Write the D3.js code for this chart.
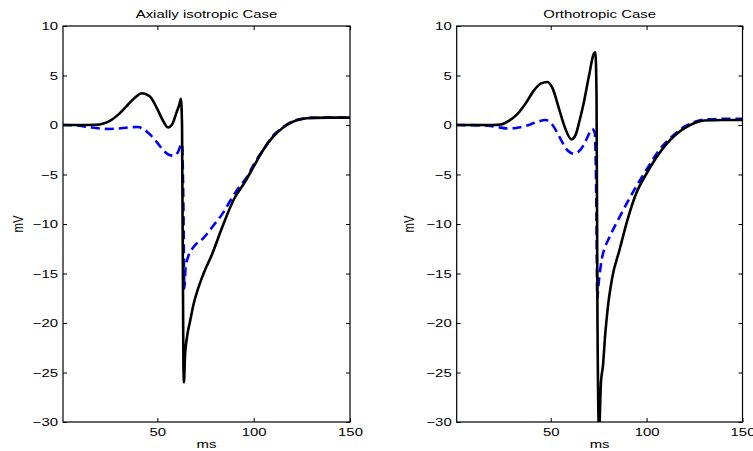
<!DOCTYPE html>
<html>
<head>
<meta charset="utf-8">
<script src="https://cdn.jsdelivr.net/npm/d3@7"></script>
<style>
  html, body { margin: 0; padding: 0; background: #fff; }
  svg { display: block; }
  text { font-family: "Liberation Sans", Arial, Helvetica, sans-serif; fill: #000; }
</style>
</head>
<body>
<svg id="chart" width="753" height="451"></svg>
<script>
// ---------- data ----------
const xTicks = [50, 100, 150];
const yTicks = [-30, -25, -20, -15, -10, -5, 0, 5, 10];
const titles = ["Axially isotropic Case", "Orthotropic Case"];
const xLabel = "ms";
const yLabel = "mV";

// Left panel: solid black trace
const leftSolidT = [1, 10, 18, 22, 26, 30, 34, 38, 42, 46, 50, 53, 55.5, 58, 60, 61.3, 62.2, 62.8, 63.5, 63.8, 64.3, 65.4, 67, 68.9, 71, 74, 78.5, 83.7, 90, 95, 100, 105, 110, 115, 120, 125, 130, 140, 150];
const leftSolidV = [0, 0, 0.02, 0.15, 0.5, 1.1, 1.9, 2.7, 3.2, 2.9, 1.6, 0.4, -0.25, 0.2, 1.3, 2.0, 2.65, 0, -24, -26, -23.5, -21.4, -19.8, -18.0, -16.6, -15.0, -13.0, -10.3, -7.4, -5.9, -4.2, -2.5, -1.2, -0.3, 0.3, 0.6, 0.72, 0.75, 0.75];
// Left panel: dashed blue trace
const leftDashT = [1, 8, 14, 20, 25, 30, 35, 40, 43, 46.4, 50, 53.3, 56, 58.5, 60.5, 62.8, 63.5, 64, 64.6, 66, 68.9, 74, 79.3, 84, 88, 92, 96.7, 100, 105, 110, 115, 120, 125, 130, 140, 150];
const leftDashV = [0, -0.05, -0.2, -0.35, -0.4, -0.35, -0.25, -0.2, -0.45, -1.0, -1.8, -2.6, -3.0, -3.1, -2.8, -1.9, -8, -16.5, -14.5, -13.3, -12.3, -11.4, -10.1, -8.9, -7.6, -6.4, -5.2, -4.0, -2.5, -1.1, -0.25, 0.35, 0.62, 0.72, 0.75, 0.75];

// Right panel: solid black trace
const rightSolidT = [1, 10, 20, 24, 28, 32.6, 37, 41.3, 45, 48.3, 51, 54.4, 57.5, 60.8, 63, 65, 67.3, 70, 72.5, 73.3, 73.9, 74.4, 75.2, 76.2, 77.2, 78.5, 79.8, 82, 85.9, 90, 94.6, 100, 105, 110, 115, 120, 125, 130, 140, 150];
const rightSolidV = [0, 0, 0, 0.05, 0.4, 1.1, 2.2, 3.5, 4.2, 4.35, 3.7, 1.6, -0.3, -1.45, -1.0, 0.4, 2.3, 5.0, 7.2, 7.35, 3, -20, -31, -26, -24.4, -21, -18.4, -15.5, -12.6, -9.6, -6.9, -4.9, -3.3, -2.0, -1.0, -0.3, 0.2, 0.45, 0.5, 0.5];
// Right panel: dashed blue trace
const rightDashT = [1, 15, 22, 27.4, 32, 37, 42, 47.3, 51, 54, 56.8, 59, 62, 64.5, 67.3, 69.5, 71.6, 73, 73.8, 74.3, 75, 76.6, 78.2, 80, 85.9, 90, 94.6, 100, 106.7, 112, 116, 120, 125, 130, 140, 150];
const rightDashV = [0, -0.05, -0.2, -0.35, -0.3, -0.1, 0.25, 0.5, 0.0, -1.0, -2.0, -2.6, -2.9, -2.7, -2.0, -1.1, -0.4, -0.8, -8, -17.5, -16, -13.6, -12.4, -11.6, -9.3, -7.8, -6.2, -4.5, -2.5, -1.4, -0.7, -0.15, 0.3, 0.55, 0.62, 0.62];

// ---------- layout ----------
const panels = [
  { x0: 63, x1: 350, title: titles[0], ylabX: 23.3,
    solid: leftSolidT.map((t, i) => [t, leftSolidV[i]]),
    dash: leftDashT.map((t, i) => [t, leftDashV[i]]) },
  { x0: 456.7, x1: 742.5, title: titles[1], ylabX: 413.5,
    solid: rightSolidT.map((t, i) => [t, rightSolidV[i]]),
    dash: rightDashT.map((t, i) => [t, rightDashV[i]]) }
];
const plotTop = 26, plotBottom = 422;
const FS = 11.3, SX = 1.32;

const svg = d3.select("#chart");

panels.forEach((p, pi) => {
  const w = p.x1 - p.x0, h = plotBottom - plotTop;
  const x = d3.scaleLinear().domain([1, 150]).range([0, w]);
  const y = d3.scaleLinear().domain([-30, 10]).range([h, 0]);
  const g = svg.append("g").attr("transform", `translate(${p.x0},${plotTop})`);

  const clipId = "clip" + pi;
  g.append("clipPath").attr("id", clipId)
    .append("rect").attr("x", 0).attr("y", 0).attr("width", w).attr("height", h);

  const line = d3.line().x(d => x(d[0])).y(d => y(d[1])).curve(d3.curveMonotoneX);

  const plot = g.append("g").attr("clip-path", `url(#${clipId})`);
  plot.append("path").datum(p.dash)
    .attr("d", line).attr("fill", "none")
    .attr("stroke", "#0000ff").attr("stroke-width", 2.6)
    .attr("stroke-dasharray", "9,5");
  plot.append("path").datum(p.solid)
    .attr("d", line).attr("fill", "none")
    .attr("stroke", "#000").attr("stroke-width", 2.6)
    .attr("stroke-linejoin", "round");

  const fmt = v => (v < 0 ? "\u2212" + Math.abs(v) : String(v));

  const ax = {
    left: d3.axisLeft(y).tickValues(yTicks).tickSizeInner(-4).tickSizeOuter(0).tickPadding(5).tickFormat(fmt),
    right: d3.axisRight(y).tickValues(yTicks).tickSizeInner(-4).tickSizeOuter(0).tickFormat(""),
    bottomA: d3.axisBottom(x).tickValues(xTicks).tickSizeInner(-4).tickSizeOuter(0).tickPadding(6).tickFormat(fmt),
    topA: d3.axisTop(x).tickValues(xTicks).tickSizeInner(-4).tickSizeOuter(0).tickFormat("")
  };
  const gl = g.append("g").call(ax.left);
  const gr = g.append("g").attr("transform", `translate(${w},0)`).call(ax.right);
  const gb = g.append("g").attr("transform", `translate(0,${h})`).call(ax.bottomA);
  const gt = g.append("g").call(ax.topA);
  [gl, gr, gb, gt].forEach(a => {
    a.select(".domain").remove();
    a.selectAll("line").attr("stroke", "#000").attr("stroke-width", 1);
    a.selectAll("text").style("font-size", FS + "px").attr("fill", "#000");
  });
  gl.selectAll("text").each(function() {
    const t = d3.select(this);
    const xv = +t.attr("x");
    t.attr("x", xv / SX).attr("transform", `scale(${SX},1)`);
  });
  gb.selectAll("text").attr("transform", `scale(${SX},1)`);

  g.append("rect").attr("x", 0).attr("y", 0).attr("width", w).attr("height", h)
    .attr("fill", "none").attr("stroke", "#000").attr("stroke-width", 1.2);

  svg.append("text")
    .attr("transform", `translate(${p.x0 + w / 2},17.5) scale(${SX},1)`)
    .attr("text-anchor", "middle").style("font-size", FS + "px")
    .text(p.title);
  svg.append("text")
    .attr("transform", `translate(${p.x0 + w / 2},448) scale(${SX},1)`)
    .attr("text-anchor", "middle").style("font-size", FS + "px")
    .text(xLabel);
  svg.append("text")
    .attr("transform", `translate(${p.ylabX},${plotTop + h / 2}) scale(${SX},1) rotate(-90)`)
    .attr("text-anchor", "middle").style("font-size", FS + "px")
    .text(yLabel);
});
</script>
</body>
</html>
